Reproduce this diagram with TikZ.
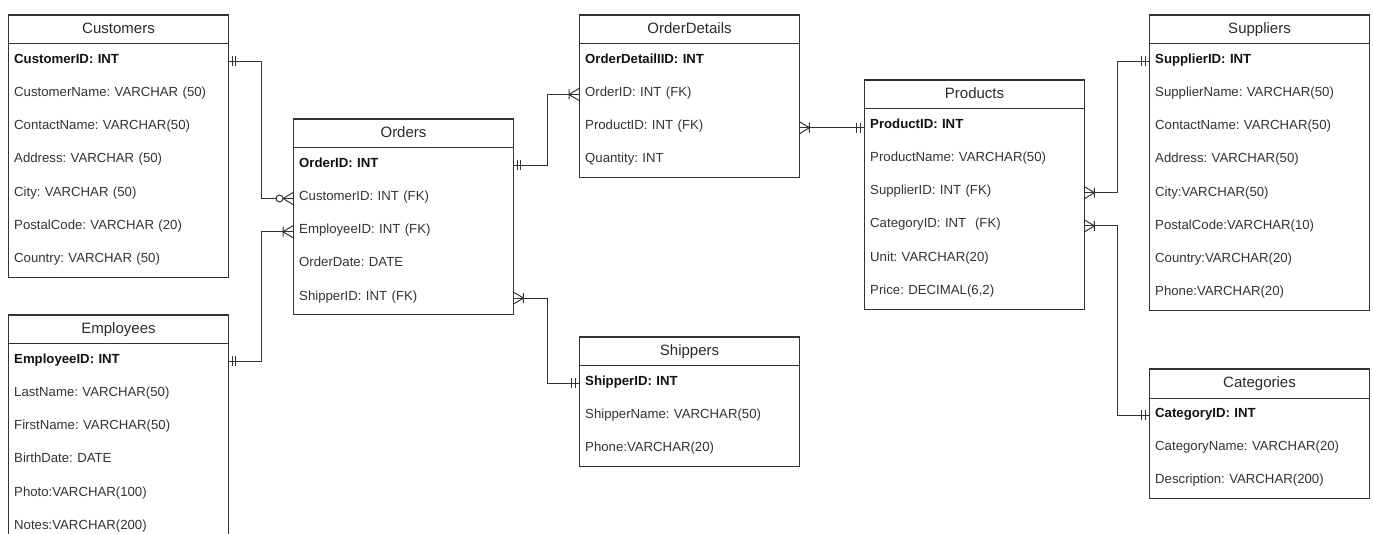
\documentclass[tikz,border=0pt]{standalone}
\usepackage{fontspec}
\setmainfont{Liberation Sans}
\usetikzlibrary{calc}
\frenchspacing
\definecolor{linec}{HTML}{333333}
\definecolor{rowc}{HTML}{333333}
\definecolor{hdrc}{HTML}{2A2A2A}
\definecolor{boldc}{HTML}{111111}
\newcommand\erTable[6]{%
  \node[hdr] (#1) at (#2,#3) {#4};
  \foreach \rowtext [count=\i] in {#5} {
    \node[row] (#1\i) at ($(#1.south west)+(0,{(\i-1)*33.2})$) {\rowtext};
  }
  \draw[frame] (#1.north west) rectangle (#1#6.south east);
}
\newcommand\pk[1]{{\color{boldc}\bfseries #1}}
\tikzset{
  hdr/.style={draw=linec, line width=1pt, anchor=north west, minimum width=220pt,
    minimum height=28.5pt, inner sep=0pt, font=\fontsize{15}{18}\selectfont,
    text=hdrc, text height=11pt, text depth=3pt},
  row/.style={anchor=north west, minimum height=33.2pt, inner xsep=6pt, inner ysep=0pt,
    text width=208pt, align=left, font=\fontsize{13.2}{15}\selectfont, text=rowc,
    text height=8.5pt, text depth=4.5pt},
  frame/.style={draw=linec, line width=1pt},
  conn/.style={draw=linec, line width=1pt},
  pics/one/.style={code={\draw[conn] (4,-5)--(4,5) (7.5,-5)--(7.5,5);}},
  pics/many/.style={code={\draw[conn] (0,-6)--(10,0)--(0,6) (10,-5)--(10,5);}},
  pics/zmany/.style={code={\draw[conn] (0,-6)--(10,0)--(0,6);
    \draw[conn, fill=white] (13.5,0) circle [radius=3.5pt];}},
}
\begin{document}
\begin{tikzpicture}[x=1pt, y=-1pt]
\useasboundingbox (0,0) rectangle (1373,534);
\erTable{cust}{8}{15}{Customers}{{\pk{CustomerID: INT}}, {CustomerName: VARCHAR (50)}, {ContactName: VARCHAR(50)}, {Address: VARCHAR (50)}, {City: VARCHAR (50)}, {PostalCode: VARCHAR (20)}, {Country: VARCHAR (50)}}{7}
\erTable{emp}{8}{315}{Employees}{{\pk{EmployeeID: INT}}, {LastName: VARCHAR(50)}, {FirstName: VARCHAR(50)}, {BirthDate: DATE}, {Photo:VARCHAR(100)}, {Notes:VARCHAR(200)}}{6}
\erTable{ord}{293}{119}{Orders}{{\pk{OrderID: INT}}, {CustomerID: INT (FK)}, {EmployeeID: INT (FK)}, {OrderDate: DATE}, {ShipperID: INT (FK)}}{5}
\erTable{od}{579}{15}{OrderDetails}{{\pk{OrderDetailIID: INT}}, {OrderID: INT (FK)}, {ProductID: INT (FK)}, {Quantity: INT}}{4}
\erTable{ship}{579}{337}{Shippers}{{\pk{ShipperID: INT}}, {ShipperName: VARCHAR(50)}, {Phone:VARCHAR(20)}}{3}
\erTable{prod}{864}{80}{Products}{{\pk{ProductID: INT}}, {ProductName: VARCHAR(50)}, {SupplierID: INT (FK)}, {CategoryID: INT\ \ (FK)}, {Unit: VARCHAR(20)}, {Price: DECIMAL(6,2)}}{6}
\erTable{sup}{1149}{15}{Suppliers}{{\pk{SupplierID: INT}}, {SupplierName: VARCHAR(50)}, {ContactName: VARCHAR(50)}, {Address: VARCHAR(50)}, {City:VARCHAR(50)}, {PostalCode:VARCHAR(10)}, {Country:VARCHAR(20)}, {Phone:VARCHAR(20)}}{8}
\erTable{cat}{1149}{369}{Categories}{{\pk{CategoryID: INT}}, {CategoryName: VARCHAR(20)}, {Description: VARCHAR(200)}}{3}
% connectors
\draw[conn] (cust1.east) -- ++(33,0) |- (ord2.west);
\draw[conn] (emp1.east) -- ++(33,0) |- (ord3.west);
\draw[conn] (ord1.east) -- ++(34,0) |- (od2.west);
\draw[conn] (ord5.east) -- ++(34,0) |- (ship1.west);
\draw[conn] (od3.east) -- (od3.east -| prod1.west);
\draw[conn] (prod3.east) -- ++(33,0) |- (sup1.west);
\draw[conn] (prod4.east) -- ++(33,0) |- (cat1.west);
% cardinality marks
\pic at (cust1.east) {one};
\pic[rotate=180] at (ord2.west) {zmany};
\pic at (emp1.east) {one};
\pic[rotate=180] at (ord3.west) {many};
\pic at (ord1.east) {one};
\pic[rotate=180] at (od2.west) {many};
\pic at (ord5.east) {many};
\pic[rotate=180] at (ship1.west) {one};
\pic at (od3.east) {many};
\pic[rotate=180] at (od3.east -| prod1.west) {one};
\pic at (prod3.east) {many};
\pic[rotate=180] at (sup1.west) {one};
\pic at (prod4.east) {many};
\pic[rotate=180] at (cat1.west) {one};
\end{tikzpicture}
\end{document}
